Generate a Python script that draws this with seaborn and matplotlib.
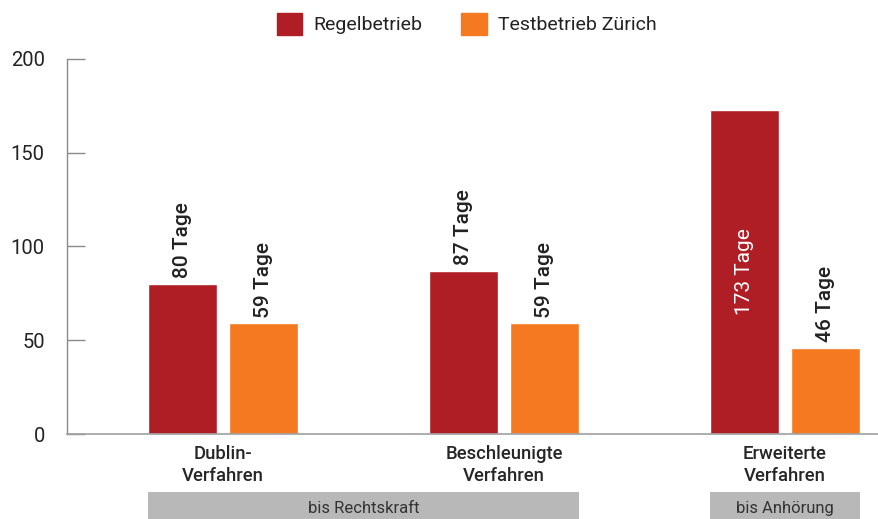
import pandas as pd
import seaborn as sns
import matplotlib.pyplot as plt
import matplotlib.transforms as mtransforms
from matplotlib.patches import Rectangle

# Daten
verfahren = ["Dublin-\nVerfahren", "Beschleunigte\nVerfahren", "Erweiterte\nVerfahren"]
regelbetrieb = [80, 87, 173]
testbetrieb = [59, 59, 46]
serien = ["Regelbetrieb", "Testbetrieb Zürich"]
gruppen = ["bis Rechtskraft", "bis Anhörung"]
gruppen_idx = [[0, 1], [2]]

rot = "#B01E25"
orange = "#F47920"
grau = "#B8B8B9"

df = pd.DataFrame({
    "verfahren": verfahren * 2,
    "tage": regelbetrieb + testbetrieb,
    "serie": [serien[0]] * 3 + [serien[1]] * 3,
})

sns.set_style("white")
plt.rcParams["font.family"] = ["Roboto", "DejaVu Sans"]
plt.rcParams["text.color"] = "#222222"

fig = plt.figure(figsize=(8.79, 5.19), dpi=100)
ax = fig.add_axes([67 / 879, 85 / 519, 1 - 67 / 879, 375 / 519])

sns.barplot(data=df, x="verfahren", y="tage", hue="serie",
            palette=[rot, orange], width=0.577, gap=0.148,
            saturation=1, legend=False, ax=ax)

ax.set_ylim(0, 200)
ax.set_xlim(-0.555, 2.335)
ax.set_yticks([0, 50, 100, 150, 200])
ax.set_xlabel("")
ax.set_ylabel("")
ax.tick_params(axis="y", left=True, direction="in", length=13, width=1,
               color="#8a8a8a", labelsize=14.5, labelcolor="#222222", pad=16)
ax.tick_params(axis="x", length=0, labelsize=13.3, pad=8)
for lbl in ax.get_xticklabels():
    lbl.set_fontweight("medium")
    lbl.set_linespacing(1.3)
for s in ["top", "right"]:
    ax.spines[s].set_visible(False)
ax.spines["left"].set_color("#8a8a8a")
ax.spines["bottom"].set_color("#a0a0a0")
ax.spines["left"].set_linewidth(1)
ax.spines["bottom"].set_linewidth(1.2)

# Wertebeschriftung
bars = sorted(ax.patches, key=lambda p: p.get_x())
werte = []
for i in range(3):
    werte += [regelbetrieb[i], testbetrieb[i]]
for bar, w in zip(bars, werte):
    xc = bar.get_x() + bar.get_width() / 2
    if w > 150:
        ax.text(xc, w / 2, f"{w} Tage", rotation=90, ha="center", va="center",
                color="white", fontsize=15)
    else:
        ax.annotate(f"{w} Tage", (xc, w), xytext=(0, 4), textcoords="offset points",
                    rotation=90, ha="center", va="bottom", fontsize=15,
                    fontweight="medium")

# Graue Balken unter den Kategorien
trans = mtransforms.blended_transform_factory(ax.transData, ax.transAxes)
for name, idx in zip(gruppen, gruppen_idx):
    x0 = bars[idx[0] * 2].get_x()
    x1 = bars[idx[-1] * 2 + 1].get_x() + bars[idx[-1] * 2 + 1].get_width()
    ax.add_patch(Rectangle((x0, -0.2267), x1 - x0, 0.072, transform=trans,
                           facecolor=grau, edgecolor="none", clip_on=False))
    ax.text((x0 + x1) / 2, -0.198, name, transform=trans, ha="center",
            va="center", fontsize=12, color="#333333")

# Legende
handles = [Rectangle((0, 0), 1, 1, color=c) for c in [rot, orange]]
fig.legend(handles, serien, loc="center", bbox_to_anchor=(0.531, 0.954),
           ncol=2, frameon=False, fontsize=14, handlelength=1.3,
           handleheight=1.4, handletextpad=0.6, columnspacing=2.0)

fig.savefig("out.png", dpi=100)
